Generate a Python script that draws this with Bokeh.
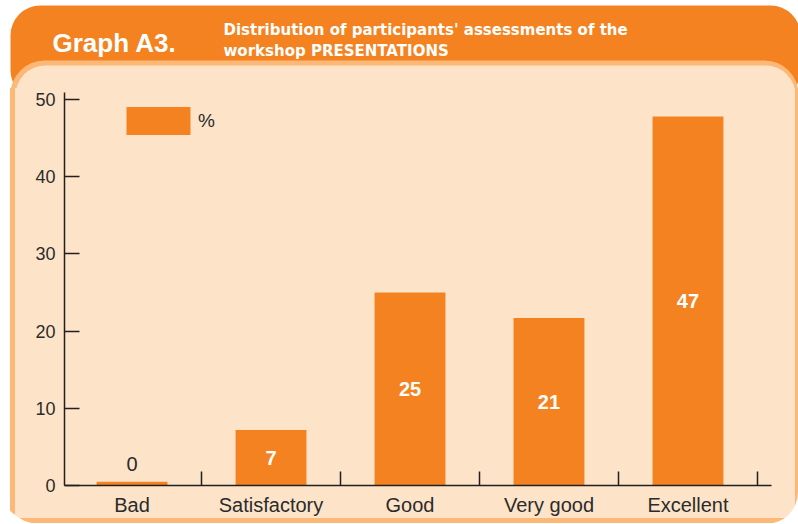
from bokeh.plotting import figure
from bokeh.layouts import column, row
from bokeh.models import (ColumnDataSource, Range1d, FixedTicker, Label,
                          Legend, LegendItem)
from bokeh.core.properties import value
from bokeh.embed import file_html
from bokeh.resources import INLINE

# ---------------- data ----------------
categories = ["Bad", "Satisfactory", "Good", "Very good", "Excellent"]
percent = [0.5, 7.2, 25.0, 21.7, 47.8]
value_labels = ["0", "7", "25", "21", "47"]
y_ticks = [0, 10, 20, 30, 40, 50]
series_name = "%"
title_main = "Graph A3."
title_lines = ["Distribution of participants' assessments of the",
               "workshop PRESENTATIONS"]

# ---------------- style ----------------
ORANGE = "#F58220"
PEACH = "#FDE4C9"
LIGHT = "#FCB877"
TEXT = "#2B2B2B"
AXIS = "#231F20"
FONT = "Liberation Sans"
W, H = 798, 524
HEAD_H = 88      # header strip height

# ---------------- header (axis-free figure in page pixels) ----------------
head = figure(width=W, height=HEAD_H, output_backend="svg",
              toolbar_location=None, x_axis_type=None, y_axis_type=None,
              x_range=Range1d(0, W), y_range=Range1d(HEAD_H, 0), min_border=0)
head.outline_line_color = None
head.background_fill_color = "white"
head.border_fill_color = "white"
head.grid.visible = False
head.quad(left=10, right=800, top=5, bottom=100, fill_color=ORANGE,
          line_color=None, border_radius=30)
head.quad(left=10, right=798, top=60, bottom=523, fill_color=LIGHT,
          line_color=None, border_radius=34)
head.quad(left=15, right=795, top=65, bottom=518, fill_color=PEACH,
          line_color=None, border_radius=30)
head.add_layout(Label(x=52, y=42, text=title_main, text_font=FONT,
                      text_font_size="26px", text_font_style="bold",
                      text_color="white", text_baseline="alphabetic"))
for i, line in enumerate(title_lines):
    head.add_layout(Label(x=223, y=29 + 21 * i, text=line,
                          text_font="DejaVu Sans", text_font_size="15px",
                          text_font_style="bold", text_color="white",
                          text_baseline="alphabetic"))

# ---------------- main chart ----------------
positions = [i + 1 for i in range(len(categories))]
MAIN_H = H - HEAD_H
p = figure(width=W, height=MAIN_H, output_backend="svg",
           toolbar_location=None,
           x_range=Range1d(0.514, 5.601), y_range=Range1d(0, 50.9),
           min_border_left=64, min_border_right=27,
           min_border_top=4, min_border_bottom=39)
p.border_fill_alpha = 0
p.background_fill_alpha = 0
p.outline_line_color = None
p.grid.visible = False
# panel chrome behind the transparent canvas
p.styles = {
    "background-image": (
        f"linear-gradient(to bottom, transparent 0px, transparent 430px, "
        f"{LIGHT} 430px, {LIGHT} 435px, #ffffff 435px), "
        f"linear-gradient(to right, #ffffff 0px, #ffffff 10px, {LIGHT} 10px, "
        f"{LIGHT} 15px, {PEACH} 15px, {PEACH} 795px, {LIGHT} 795px)"),
    "border-radius": "0px 0px 32px 40px",
}

src = ColumnDataSource(dict(x=positions, top=percent))
bars = p.vbar(x="x", top="top", width=0.51, source=src,
              fill_color=ORANGE, line_color=None)

inside = [i for i, v in enumerate(percent) if v >= 5]
outside = [i for i, v in enumerate(percent) if v < 5]
src_in = ColumnDataSource(dict(x=[positions[i] for i in inside],
                               y=[percent[i] / 2 for i in inside],
                               t=[value_labels[i] for i in inside]))
src_out = ColumnDataSource(dict(x=[positions[i] for i in outside],
                                y=[percent[i] for i in outside],
                                t=[value_labels[i] for i in outside]))
p.text(x="x", y="y", text="t", source=src_in, text_color="white",
       text_font=value(FONT), text_font_size="20px", text_font_style="bold",
       text_align="center", text_baseline="middle")
p.text(x="x", y="y", text="t", source=src_out, text_color=TEXT,
       text_font=value(FONT), text_font_size="20px",
       text_align="center", text_baseline="alphabetic", y_offset=-18)

xa = p.xaxis[0]
xa.ticker = FixedTicker(ticks=positions,
                        minor_ticks=[x + 0.5 for x in positions])
xa.major_label_overrides = {x: c for x, c in zip(positions, categories)}
xa.major_tick_in = 0
xa.major_tick_out = 0
xa.minor_tick_in = 14
xa.minor_tick_out = 0
xa.minor_tick_line_color = AXIS
xa.minor_tick_line_width = 1.5
xa.axis_line_color = AXIS
xa.axis_line_width = 1.5
xa.major_label_text_font = FONT
xa.major_label_text_font_size = "20px"
xa.major_label_text_color = TEXT
xa.major_label_standoff = 8

ya = p.yaxis[0]
ya.ticker = FixedTicker(ticks=y_ticks, minor_ticks=[])
ya.major_tick_in = 15
ya.major_tick_out = 0
ya.major_tick_line_color = AXIS
ya.major_tick_line_width = 1.5
ya.axis_line_color = AXIS
ya.axis_line_width = 1.5
ya.major_label_text_font = FONT
ya.major_label_text_font_size = "18px"
ya.major_label_text_color = TEXT
ya.major_label_standoff = 9

legend = Legend(items=[LegendItem(label=series_name, renderers=[bars])],
                location=(54, 347), glyph_width=80, glyph_height=35,
                padding=0, margin=0, spacing=0, label_standoff=0,
                border_line_color=None, background_fill_alpha=0,
                label_text_font=FONT, label_text_font_size="19px",
                label_text_color=TEXT)
p.add_layout(legend)

layout = column(head, row(p, spacing=0), spacing=0)
open("out.html", "w").write(file_html(layout, INLINE))
